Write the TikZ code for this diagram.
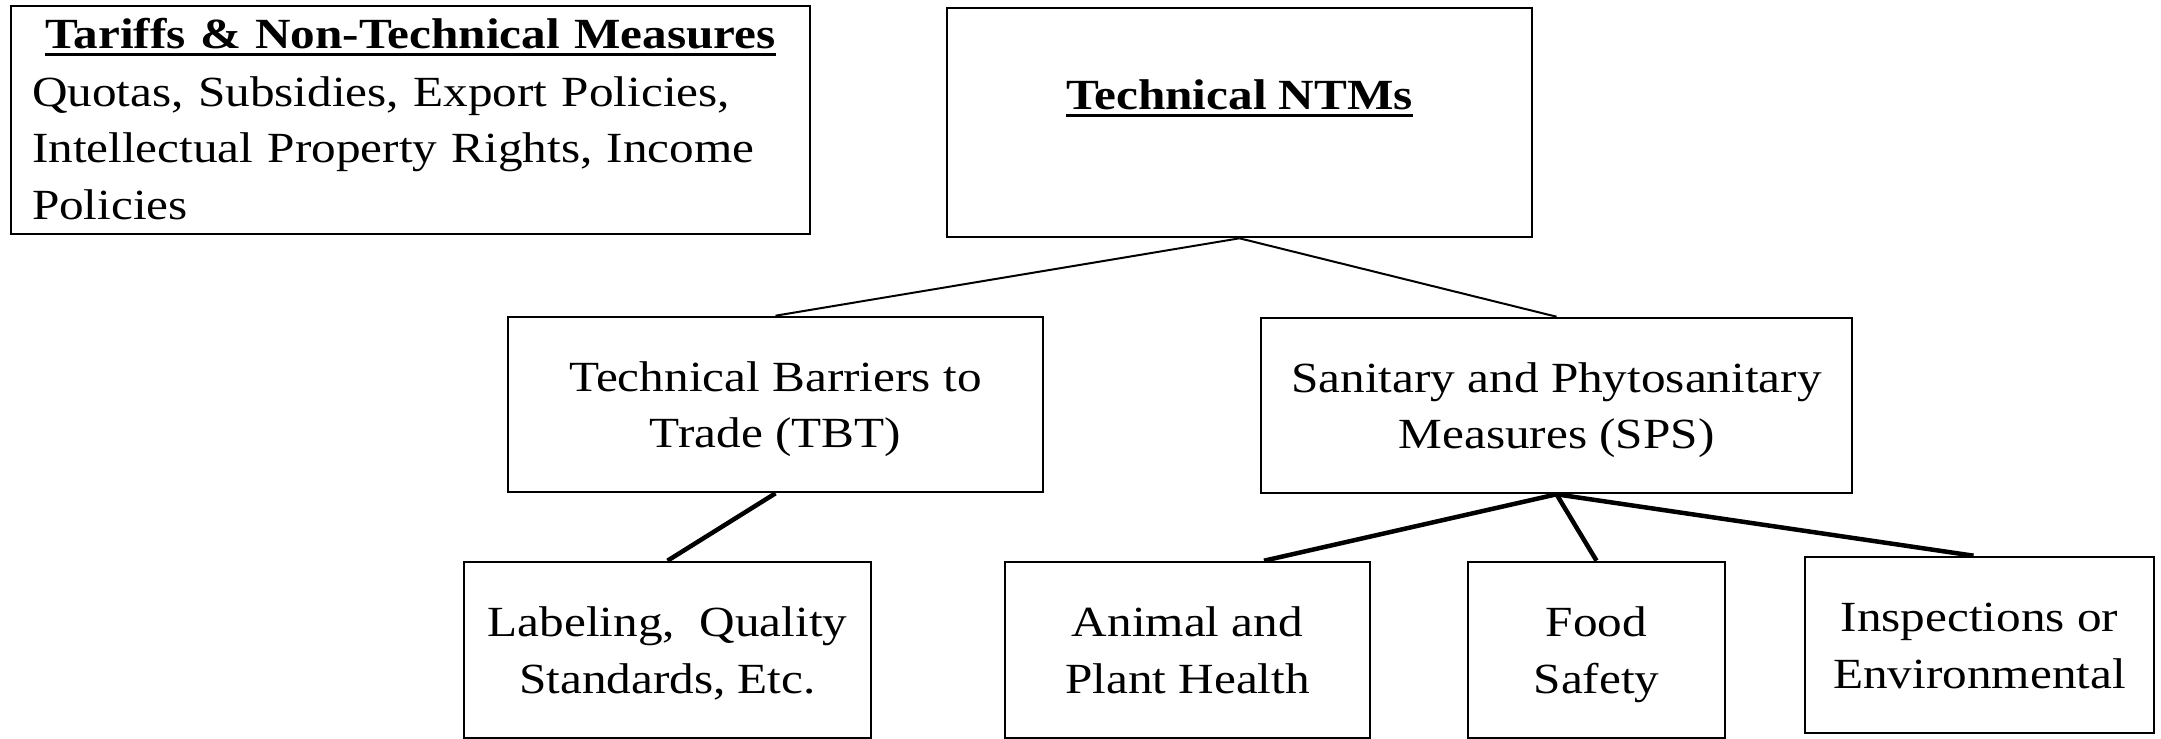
\documentclass[tikz,border=0pt]{standalone}
\usepackage{fontspec}
\newfontfamily\bodyf[FakeStretch=1.145]{Liberation Serif}
\newfontfamily\titlef[FakeStretch=1.145]{Liberation Serif}
\newcommand\myul[1]{\setbox0\hbox{#1}\rlap{\rule[-7.5pt]{\wd0}{3pt}}\box0}
\newcommand\topstrut{\rule{0pt}{42pt}}
\newcommand\botstrut{\rule[-12pt]{0pt}{12pt}}
\begin{document}
\begin{tikzpicture}[x=1pt,y=-1pt,
  box/.style={draw, line width=2.6pt, rectangle, inner sep=0pt, align=center,
    font=\bodyf\fontsize{43}{56.5}\selectfont},
  thinline/.style={line width=2pt},
  thickline/.style={line width=4.5pt}]
\fill[white] (0,0) rectangle (2161,739);
\useasboundingbox (0,0) rectangle (2161,739);

\node[box, anchor=base, align=left, text width=757pt, inner xsep=21pt,
  text height=42pt, text depth=186pt, font=\bodyf\fontsize{43}{56.6}\selectfont] (tariffs) at (410.5,48)
  {\makebox[757pt]{\titlef\bfseries\fontsize{43}{50}\selectfont\myul{Tariffs \& Non-Technical Measures}}\\[1.5pt]
   Quotas, Subsidies, Export Policies,\\
   Intellectual Property Rights, Income\\
   Policies};

\node[box, anchor=base, minimum width=585pt, text height=101pt, text depth=128pt]
  (ntm) at (1239.5,109) {\titlef\bfseries\fontsize{43}{50}\selectfont\myul{Technical NTMs}};

\node[box, minimum width=535pt, minimum height=175pt] (tbt) at (775.5,404.5)
  {\topstrut Technical Barriers to\\ Trade (TBT)\botstrut};
\node[box, minimum width=591pt, minimum height=175pt] (sps) at (1556.5,405.5)
  {\topstrut Sanitary and Phytosanitary\\ Measures (SPS)\botstrut};

\node[box, minimum width=407pt, minimum height=176pt] (label) at (667.5,650)
  {\topstrut Labeling,\ \ Quality\\ Standards, Etc.\botstrut};
\node[box, minimum width=365pt, minimum height=176pt] (animal) at (1187.5,650)
  {\topstrut Animal and\\ Plant Health\botstrut};
\node[box, minimum width=257pt, minimum height=176pt] (food) at (1596.5,650)
  {\topstrut Food\\ Safety\botstrut};
\node[box, minimum width=349pt, minimum height=176pt] (insp) at (1979.5,645)
  {\topstrut Inspections or\\ Environmental\botstrut};

\draw[thinline] (ntm.south) -- (tbt.north);
\draw[thinline] (ntm.south) -- (sps.north);
\draw[thickline] (tbt.south) -- (label.north);
\draw[thickline] (sps.south) -- ([xshift=76.5pt]animal.north);
\draw[thickline] (sps.south) -- (food.north);
\draw[thickline] (sps.south) -- ([xshift=-6pt]insp.north);
\end{tikzpicture}
\end{document}
